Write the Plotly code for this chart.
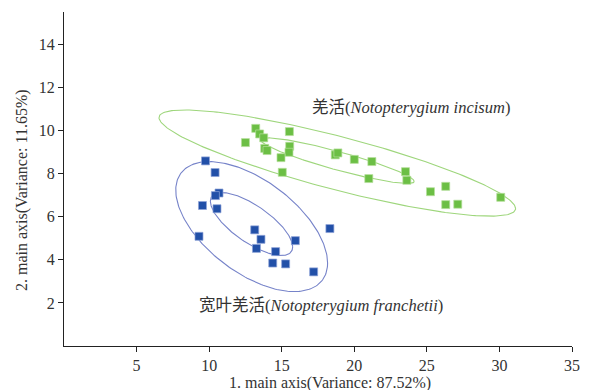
import numpy as np
import plotly.graph_objects as go

# PCA scores, group 1: 宽叶羌活 (N. franchetii)
blue_x = [9.75, 10.41, 10.68, 10.43, 9.54, 10.54, 9.30, 13.14, 13.57, 13.26,
          14.58, 15.94, 14.38, 15.27, 17.20, 18.32]
blue_y = [8.59, 8.05, 7.10, 6.98, 6.52, 6.37, 5.09, 5.39, 4.95, 4.53,
          4.38, 4.89, 3.85, 3.81, 3.44, 5.45]

# PCA scores, group 2: 羌活 (N. incisum)
green_x = [13.21, 13.48, 13.76, 15.53, 12.50, 13.83, 13.99, 15.55, 15.50, 14.95,
           15.04, 18.69, 18.87, 20.00, 21.21, 23.53, 23.62, 21.00, 25.25, 26.30,
           26.30, 27.13, 30.09]
green_y = [10.10, 9.84, 9.66, 9.95, 9.44, 9.17, 9.07, 9.27, 8.99, 8.74,
           8.06, 8.87, 8.96, 8.66, 8.56, 8.09, 7.69, 7.77, 7.16, 7.41,
           6.56, 6.58, 6.90]

# Confidence ellipses: centre (x, y) and shape matrix (sxx, sxy, syy)
green_outer = ((18.83, 8.49), (150.9, -25.92, 6.075))
green_inner = ((18.84, 8.60), (27.95, -5.086, 1.12))
blue_outer = ((12.93, 5.54), (27.36, -8.847, 9.098))
blue_inner = ((12.92, 5.66), (8.04, -3.002, 2.136))

x_ticks = [5, 10, 15, 20, 25, 30, 35]
y_ticks = [2, 4, 6, 8, 10, 12, 14]

x_title = "1. main axis(Variance: 87.52%)"
y_title = "2. main axis(Variance: 11.65%)"

GREEN = "#6cbf45"
BLUE = "#2250a8"
GREEN_LINE = "#9ed67c"
BLUE_LINE = "#7683c9"
TEXT = "#333"
FONT = "Liberation Serif, Times New Roman, Noto Sans CJK SC, serif"


def ellipse_path(spec, n=240):
    (cx, cy), (sxx, sxy, syy) = spec
    L = np.linalg.cholesky(np.array([[sxx, sxy], [sxy, syy]]))
    t = np.linspace(0, 2 * np.pi, n)
    pts = L @ np.vstack([np.cos(t), np.sin(t)])
    return cx + pts[0], cy + pts[1]


fig = go.Figure()

for spec, col in [(green_outer, GREEN_LINE), (green_inner, GREEN_LINE),
                  (blue_outer, BLUE_LINE), (blue_inner, BLUE_LINE)]:
    ex, ey = ellipse_path(spec)
    fig.add_trace(go.Scatter(x=ex, y=ey, mode="lines",
                             line=dict(color=col, width=1.1),
                             hoverinfo="skip", showlegend=False))

fig.add_trace(go.Scatter(x=blue_x, y=blue_y, mode="markers",
                         marker=dict(symbol="square", size=8, color=BLUE,
                                     line=dict(color="#8fa3d8", width=0.7)),
                         showlegend=False))
fig.add_trace(go.Scatter(x=green_x, y=green_y, mode="markers",
                         marker=dict(symbol="square", size=8, color=GREEN,
                                     line=dict(color="#b6e09c", width=0.7)),
                         showlegend=False))

# group labels
fig.add_annotation(x=23.9, y=11.05, text="羌活(<i>Notopterygium incisum</i>)",
                   showarrow=False, font=dict(family=FONT, size=16.5, color=TEXT))
fig.add_annotation(x=17.72, y=1.87, text="宽叶羌活(<i>Notopterygium franchetii</i>)",
                   showarrow=False, font=dict(family=FONT, size=16.5, color=TEXT))

# axis titles
fig.add_annotation(xref="paper", yref="paper", x=0.5236, y=-0.111,
                   xanchor="center", yanchor="middle", text=x_title,
                   showarrow=False, font=dict(family=FONT, size=16, color=TEXT))
fig.add_annotation(xref="paper", yref="paper", x=-0.0827, y=0.467,
                   xanchor="center", yanchor="middle", text=y_title, textangle=-90,
                   showarrow=False, font=dict(family=FONT, size=16, color=TEXT))

axis_common = dict(showgrid=False, zeroline=False, showline=True,
                   linecolor="#222", linewidth=1.3, ticks="outside",
                   ticklen=5, tickwidth=1.2, tickcolor="#222",
                   tickfont=dict(family=FONT, size=16, color=TEXT))

fig.update_xaxes(range=[0, 35], tickvals=x_ticks, **axis_common)
fig.update_yaxes(range=[0, 15.5], tickvals=y_ticks, **axis_common)

fig.update_layout(width=594, height=390,
                  margin=dict(l=64, r=22, t=12, b=44),
                  paper_bgcolor="white", plot_bgcolor="white",
                  showlegend=False)

fig.write_html("out.html")
